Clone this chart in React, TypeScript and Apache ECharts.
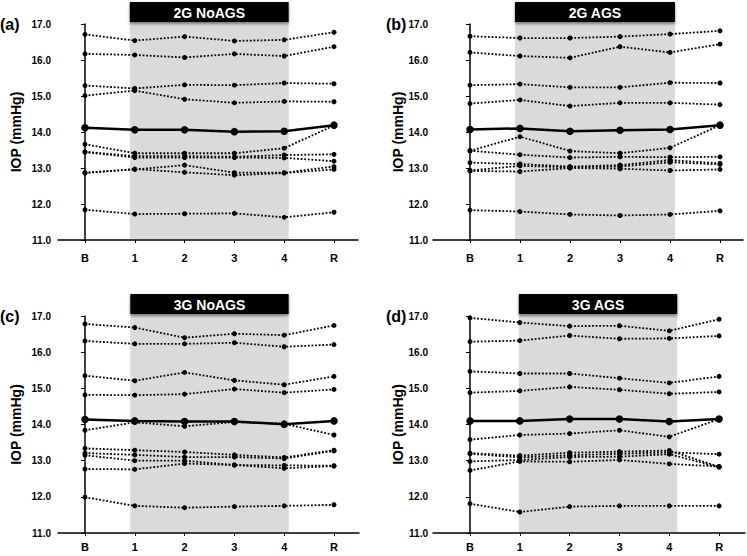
import React, { useEffect, useRef } from 'react';
import * as echarts from 'echarts';

const categories = ['B', '1', '2', '3', '4', 'R'];
const panelLetters = ['(a)', '(b)', '(c)', '(d)'];
const panelTitles = ['2G NoAGS', '2G AGS', '3G NoAGS', '3G AGS'];

const meanA = [14.12, 14.06, 14.06, 14.01, 14.02, 14.19];
const subjectsA = [
  [16.71, 16.54, 16.65, 16.53, 16.56, 16.77],
  [16.17, 16.14, 16.07, 16.17, 16.11, 16.37],
  [15.29, 15.21, 15.31, 15.30, 15.36, 15.34],
  [15.01, 15.15, 14.91, 14.81, 14.85, 14.84],
  [13.66, 13.41, 13.41, 13.41, 13.55, 14.18],
  [13.45, 13.33, 13.33, 13.31, 13.36, 13.38],
  [13.44, 13.29, 13.29, 13.29, 13.28, 13.19],
  [12.87, 12.96, 13.08, 12.87, 12.87, 13.04],
  [12.86, 12.97, 12.88, 12.80, 12.86, 12.96],
  [11.84, 11.72, 11.73, 11.74, 11.63, 11.77],
];

const meanB = [14.07, 14.10, 14.02, 14.05, 14.07, 14.19];
const subjectsB = [
  [16.66, 16.61, 16.61, 16.65, 16.72, 16.81],
  [16.21, 16.11, 16.06, 16.37, 16.21, 16.44],
  [15.30, 15.33, 15.24, 15.24, 15.37, 15.36],
  [14.79, 14.89, 14.72, 14.81, 14.81, 14.76],
  [13.48, 13.87, 13.47, 13.41, 13.56, 14.19],
  [13.48, 13.37, 13.29, 13.31, 13.30, 13.31],
  [13.15, 13.11, 13.04, 13.08, 13.22, 13.13],
  [12.93, 13.06, 13.02, 13.04, 13.16, 13.10],
  [12.92, 12.90, 13.00, 12.98, 12.93, 12.96],
  [11.83, 11.79, 11.71, 11.68, 11.71, 11.81],
];

const meanC = [14.14, 14.10, 14.08, 14.08, 14.01, 14.10];
const subjectsC = [
  [16.78, 16.68, 16.40, 16.51, 16.47, 16.74],
  [16.31, 16.23, 16.23, 16.26, 16.15, 16.21],
  [15.35, 15.21, 15.44, 15.22, 15.10, 15.33],
  [14.82, 14.81, 14.84, 14.98, 14.88, 14.97],
  [13.84, 14.06, 13.95, 14.07, 14.02, 13.71],
  [13.34, 13.29, 13.24, 13.16, 13.09, 13.29],
  [13.21, 13.16, 13.10, 13.10, 13.06, 13.27],
  [13.15, 13.00, 13.00, 12.88, 12.87, 12.86],
  [12.77, 12.76, 12.92, 12.88, 12.79, 12.85],
  [11.99, 11.75, 11.70, 11.73, 11.75, 11.78],
];

const meanD = [14.10, 14.10, 14.15, 14.15, 14.08, 14.15];
const subjectsD = [
  [16.95, 16.82, 16.72, 16.73, 16.59, 16.91],
  [16.29, 16.32, 16.46, 16.37, 16.38, 16.45],
  [15.47, 15.41, 15.41, 15.28, 15.15, 15.33],
  [14.88, 14.93, 15.04, 14.96, 14.85, 14.90],
  [13.58, 13.71, 13.75, 13.84, 13.66, 14.15],
  [13.21, 13.14, 13.22, 13.25, 13.28, 12.83],
  [13.19, 13.09, 13.15, 13.19, 13.23, 13.18],
  [12.98, 13.02, 13.10, 13.11, 13.18, 12.82],
  [12.73, 12.98, 12.97, 13.02, 12.91, 12.84],
  [11.81, 11.58, 11.73, 11.75, 11.75, 11.75],
];

const means = [meanA, meanB, meanC, meanD];
const subjects = [subjectsA, subjectsB, subjectsC, subjectsD];

// layout (pixels / axis extents)
const grids = [
  { left: 58, top: 24, width: 300, height: 216 },
  { left: 433, top: 24, width: 310, height: 216 },
  { left: 58, top: 316, width: 301, height: 217 },
  { left: 433, top: 316, width: 312, height: 217 },
];
const xMin = [-0.542, -0.74, -0.542, -0.743];
const xMax = [5.482, 5.46, 5.502, 5.52];
const bandStart = [0.9, 0.9, 0.91, 0.98];
const bandEnd = [4.09, 4.1, 4.09, 4.16];
const xLabelMargin = [12, 12, 8, 8];
const yLabelMargin = [7, 5, 7, 5];
const nameGaps = [35, 26, 35, 26];
const letterPos = [[0, 24], [386, 24], [0, 316], [386, 316]];

const FONT = '"Liberation Sans", Arial, Helvetica, sans-serif';

export default function App() {
  const ref = useRef<HTMLDivElement>(null);
  useEffect(() => {
    if (!ref.current) return;
    const chart = echarts.init(ref.current, undefined, { renderer: 'svg' });
    const tickVals = categories.map((_, i) => i);
    const series: any[] = [];
    for (let p = 0; p < 4; p++) {
      subjects[p].forEach((vals, k) => {
        series.push({
          type: 'line',
          name: `s${p}_${k}`,
          xAxisIndex: p,
          yAxisIndex: p,
          data: vals.map((v, i) => [i, v]),
          symbol: 'circle',
          symbolSize: 5,
          itemStyle: { color: '#000' },
          lineStyle: { color: '#000', width: 1.8, type: 'dotted' },
          z: 3,
          silent: true,
        });
      });
      series.push({
        type: 'line',
        name: `mean${p}`,
        xAxisIndex: p,
        yAxisIndex: p,
        data: means[p].map((v, i) => [i, v]),
        symbol: 'circle',
        symbolSize: 7.5,
        itemStyle: { color: '#000' },
        lineStyle: { color: '#000', width: 2.5 },
        z: 5,
        silent: true,
      });
    }
    chart.setOption({
      animation: false,
      backgroundColor: '#fff',
      grid: grids.map((g) => ({ ...g, containLabel: false })),
      xAxis: grids.map((_, p) => ({
        type: 'value',
        gridIndex: p,
        min: xMin[p],
        max: xMax[p],
        splitLine: { show: false },
        axisLine: { show: true, lineStyle: { color: '#000', width: 1.5 } },
        axisTick: { show: true, customValues: tickVals, length: 3, lineStyle: { color: '#000', width: 1 } },
        axisLabel: {
          customValues: tickVals,
          formatter: (v: number) => categories[Math.round(v)] ?? '',
          color: '#000',
          fontFamily: FONT,
          fontWeight: 'bold',
          fontSize: 11,
          margin: xLabelMargin[p],
        },
      })),
      yAxis: grids.map((_, p) => ({
        type: 'value',
        gridIndex: p,
        min: 11,
        max: 17,
        interval: 1,
        name: 'IOP (mmHg)',
        nameLocation: 'middle',
        nameGap: nameGaps[p],
        nameTextStyle: { color: '#000', fontFamily: FONT, fontWeight: 'bold', fontSize: 14 },
        splitLine: { show: false },
        axisLine: { show: true, lineStyle: { color: '#000', width: 1.5 } },
        axisTick: { show: true, length: 4, lineStyle: { color: '#000', width: 1 } },
        axisLabel: {
          formatter: (v: number) => v.toFixed(1),
          color: '#000',
          fontFamily: FONT,
          fontWeight: 'bold',
          fontSize: 10,
          margin: yLabelMargin[p],
        },
      })),
      series,
    });

    const graphic: any[] = [];
    for (let p = 0; p < 4; p++) {
      const [x1, y17] = chart.convertToPixel({ gridIndex: p }, [bandStart[p], 17]) as number[];
      const [x2, y11] = chart.convertToPixel({ gridIndex: p }, [bandEnd[p], 11]) as number[];
      const hTop = y17 - 22;
      const hH = 20;
      graphic.push({
        type: 'rect',
        z: 1,
        silent: true,
        shape: { x: x1, y: hTop + hH, width: x2 - x1, height: y11 - 1 - (hTop + hH) },
        style: { fill: '#dadada' },
      });
      graphic.push({
        type: 'rect',
        z: 10,
        silent: true,
        shape: { x: x1, y: hTop, width: x2 - x1, height: hH },
        style: { fill: '#000', shadowBlur: 3, shadowOffsetY: 2, shadowColor: 'rgba(0,0,0,0.45)' },
      });
      graphic.push({
        type: 'text',
        z: 11,
        silent: true,
        x: (x1 + x2) / 2,
        y: hTop + hH / 2 + 0.5,
        style: {
          text: panelTitles[p],
          fill: '#fff',
          font: `bold 14px ${FONT}`,
          align: 'center',
          verticalAlign: 'middle',
        },
      });
      graphic.push({
        type: 'text',
        z: 11,
        silent: true,
        x: letterPos[p][0],
        y: letterPos[p][1],
        style: {
          text: panelLetters[p],
          fill: '#000',
          font: `bold 16px ${FONT}`,
          align: 'left',
          verticalAlign: 'middle',
        },
      });
    }
    chart.setOption({ graphic });
    return () => chart.dispose();
  }, []);
  return (
    <div
      ref={ref}
      style={{ position: 'absolute', left: 0, top: 0, width: 747, height: 556, background: '#fff' }}
    />
  );
}
